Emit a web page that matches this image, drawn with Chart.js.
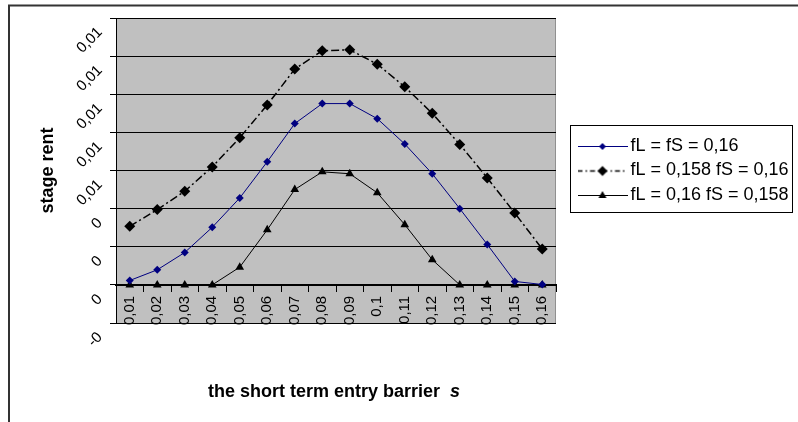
<!DOCTYPE html>
<html>
<head>
<meta charset="utf-8">
<script src="https://cdn.jsdelivr.net/npm/chart.js@4.4.1/dist/chart.umd.min.js"></script>
<style>
    body { margin: 0; background: #fff; }
    canvas { display: block; }
</style>
</head>
<body>
<canvas id="rentChart" width="798" height="422"></canvas>
<script>
// Дані з графіка
const categories = ['0,01', '0,02', '0,03', '0,04', '0,05', '0,06', '0,07', '0,08',
                    '0,09', '0,1', '0,11', '0,12', '0,13', '0,14', '0,15', '0,16'];
const rentEqual = [0.00023, 0.00079, 0.0017, 0.00302, 0.00456, 0.00646, 0.00846, 0.00951,
                   0.00951, 0.00872, 0.00739, 0.00583, 0.0040, 0.00212, 0.00018, 0.00002];
const rentLowL = [0.00307, 0.00395, 0.00491, 0.00619, 0.00772, 0.00944, 0.01132, 0.01228,
                  0.01233, 0.01158, 0.01039, 0.0090, 0.00737, 0.00561, 0.00377, 0.00188];
const rentLowS = [0, 0, 0, 0, 0.00093, 0.00289, 0.0050, 0.00593,
                  0.00583, 0.00483, 0.00316, 0.00132, 0, 0, 0, 0];
// підписи осі Y знизу вгору (-0,002 ... 0,014)
const yTickLabels = ['-0', '0', '0', '0', '0,01', '0,01', '0,01', '0,01', '0,01'];
const seriesNames = ['fL = fS = 0,16', 'fL = 0,158 fS = 0,16', 'fL = 0,16 fS = 0,158'];

const NAVY = '#000080';
const FONT = 'Arial, "Liberation Sans", sans-serif';

// Зразки для легенди: лінія з маркером посередині
function legendSample(kind) {
    const c = document.createElement('canvas');
    c.width = 50; c.height = 14;
    const g = c.getContext('2d');
    g.strokeStyle = kind === 'equal' ? NAVY : '#000';
    g.fillStyle = g.strokeStyle;
    g.lineWidth = kind === 'lowL' ? 1.5 : 1;
    if (kind === 'lowL') g.setLineDash([5, 3, 1.5, 3]);
    g.beginPath(); g.moveTo(0, 7.5); g.lineTo(50, 7.5); g.stroke();
    g.setLineDash([]);
    g.beginPath();
    if (kind === 'tri') {
        g.moveTo(25, 3); g.lineTo(29, 10); g.lineTo(21, 10);
    } else {
        const r = kind === 'lowL' ? 5 : 3.5;
        g.moveTo(25, 7.5 - r); g.lineTo(25 + r, 7.5); g.lineTo(25, 7.5 + r); g.lineTo(25 - r, 7.5);
    }
    g.closePath(); g.fill();
    return c;
}
const samples = [legendSample('equal'), legendSample('lowL'), legendSample('tri')];

// Фон, рамка, повернуті підписи осі Y, назва осі X, рамка легенди
const decorPlugin = {
    id: 'decor',
    beforeDraw(chart) {
        const { ctx, chartArea: a } = chart;
        ctx.save();
        ctx.fillStyle = '#fff';
        ctx.fillRect(0, 0, chart.width, chart.height);
        ctx.strokeStyle = '#333';
        ctx.lineWidth = 2;
        ctx.strokeRect(9, 5.5, chart.width + 10, chart.height + 10);
        ctx.fillStyle = '#c0c0c0';
        ctx.fillRect(a.left, a.top, a.right - a.left, a.bottom - a.top);
        ctx.strokeStyle = '#909090';
        ctx.lineWidth = 1;
        ctx.beginPath(); ctx.moveTo(a.right - 0.5, a.top); ctx.lineTo(a.right - 0.5, a.bottom); ctx.stroke();
        ctx.restore();
    },
    afterDraw(chart) {
        const { ctx } = chart;
        const y = chart.scales.y;
        ctx.save();
        ctx.fillStyle = '#000';
        ctx.font = '15px ' + FONT;
        ctx.textAlign = 'right';
        ctx.textBaseline = 'middle';
        y.ticks.forEach(t => {
            const py = y.getPixelForValue(t.value);
            ctx.save();
            ctx.translate(100, py + 12);
            ctx.rotate(-Math.PI / 4);
            ctx.fillText(t.label, 0, 0);
            ctx.restore();
        });

        // назва осі X з курсивною "s"
        const main = 'the short term entry barrier  ';
        ctx.textAlign = 'left';
        ctx.font = 'bold 18px ' + FONT;
        const w1 = ctx.measureText(main).width;
        ctx.font = 'italic bold 18px ' + FONT;
        const w2 = ctx.measureText('s').width;
        const x0 = 334 - (w1 + w2) / 2;
        ctx.font = 'bold 18px ' + FONT;
        ctx.fillText(main, x0, 392);
        ctx.font = 'italic bold 18px ' + FONT;
        ctx.fillText('s', x0 + w1, 392);

        // рамка легенди
        const lg = chart.legend;
        const hb = lg.legendHitBoxes;
        if (hb && hb.length) {
            ctx.strokeStyle = '#000';
            ctx.lineWidth = 1;
            const top = hb[0].top - 12, bottom = hb[hb.length - 1].top + 26;
            ctx.strokeRect(Math.round(lg.left) - 6.5, Math.round(top) + 0.5, 222, Math.round(bottom - top));
        }
        ctx.restore();
    }
};

const ctx = document.getElementById('rentChart').getContext('2d');
const chart = new Chart(ctx, {
    type: 'line',
    data: {
        labels: categories,
        datasets: [{
            label: seriesNames[0],
            data: rentEqual,
            borderColor: NAVY,
            backgroundColor: NAVY,
            borderWidth: 1,
            pointStyle: 'rectRot',
            pointRadius: 4,
            pointBorderWidth: 0,
            tension: 0
        }, {
            label: seriesNames[1],
            data: rentLowL,
            borderColor: '#000',
            backgroundColor: '#000',
            borderWidth: 1.5,
            borderDash: [8, 3, 2, 3],
            pointStyle: 'rectRot',
            pointRadius: 5.5,
            pointBorderWidth: 0,
            tension: 0
        }, {
            label: seriesNames[2],
            data: rentLowS,
            borderColor: '#000',
            backgroundColor: '#000',
            borderWidth: 1,
            pointStyle: 'triangle',
            pointRadius: 5,
            pointBorderWidth: 0,
            tension: 0
        }]
    },
    options: {
        responsive: false,
        animation: false,
        devicePixelRatio: 1,
        layout: { padding: { top: 18, bottom: 99, left: 0, right: 0 } },
        scales: {
            x: {
                type: 'category',
                position: { y: 0 },
                offset: true,
                grid: {
                    display: true, drawOnChartArea: false, drawTicks: true,
                    tickLength: 6, offset: true, color: '#000'
                },
                border: { display: true, color: '#000', width: 2 },
                ticks: {
                    color: '#000', font: { size: 15, family: FONT },
                    minRotation: 90, maxRotation: 90, autoSkip: false, padding: 5
                }
            },
            y: {
                position: 'left',
                min: -0.002,
                max: 0.014,
                grid: { color: '#000', lineWidth: 1, drawTicks: true, tickLength: 6 },
                border: { display: true, color: '#000', width: 1 },
                ticks: {
                    display: false,
                    stepSize: 0.002,
                    callback: (v, i) => yTickLabels[i]
                },
                title: {
                    display: true,
                    text: 'stage rent',
                    color: '#000',
                    font: { size: 18, weight: 'bold', family: FONT },
                    padding: { top: 37, bottom: 0 }
                },
                afterFit: s => { s.width = 116; }
            },
            gap: {
                type: 'linear',
                position: 'right',
                display: true,
                grid: { display: false, drawTicks: false },
                border: { display: false },
                ticks: { display: false },
                afterFit: s => { s.width = 21; }
            }
        },
        plugins: {
            legend: {
                display: true,
                position: 'right',
                align: 'center',
                maxWidth: 221,
                labels: {
                    usePointStyle: true,
                    pointStyleWidth: 38,
                    padding: 6.5,
                    color: '#000',
                    font: { size: 18, family: FONT },
                    generateLabels: ch => Chart.defaults.plugins.legend.labels.generateLabels(ch)
                        .map((item, i) => Object.assign(item, { pointStyle: samples[i] }))
                }
            },
            tooltip: { enabled: false }
        }
    },
    plugins: [decorPlugin]
});
</script>
</body>
</html>
